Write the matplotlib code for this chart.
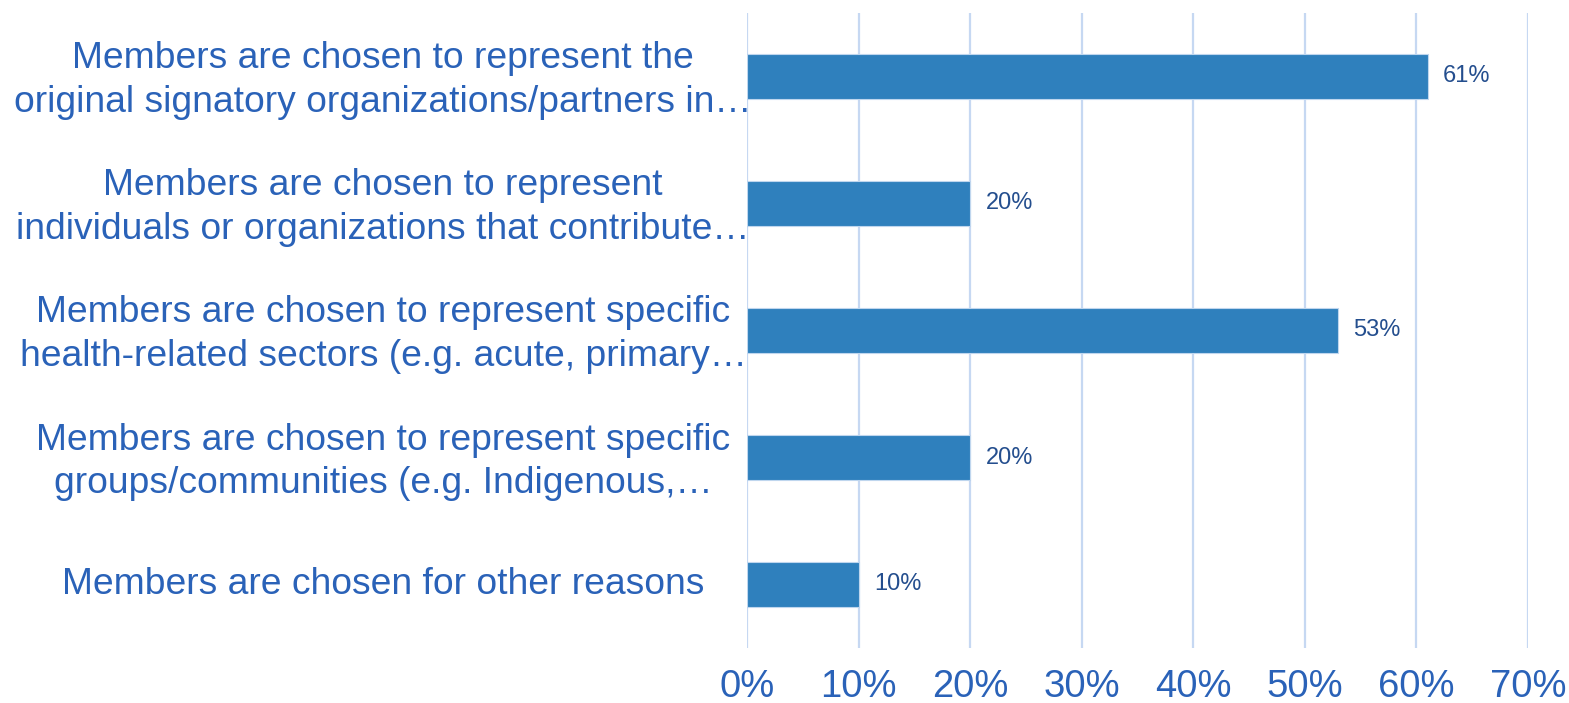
import matplotlib
matplotlib.use("Agg")
import matplotlib.pyplot as plt
from matplotlib.transforms import ScaledTranslation

categories = [
    "Members are chosen to represent the\noriginal signatory organizations/partners in\u2026",
    "Members are chosen to represent\nindividuals or organizations that contribute\u2026",
    "Members are chosen to represent specific\nhealth-related sectors (e.g. acute, primary\u2026",
    "Members are chosen to represent specific\ngroups/communities (e.g. Indigenous,\u2026",
    "Members are chosen for other reasons",
]
values = [61, 20, 53, 20, 10]
xticks = [0, 10, 20, 30, 40, 50, 60, 70]
xtick_labels = ["0%", "10%", "20%", "30%", "40%", "50%", "60%", "70%"]

plt.rcParams["font.family"] = ["Liberation Sans", "DejaVu Sans"]

label_color = "#2A62B8"
value_color = "#244E8E"
bar_color = "#2F80BD"
grid_color = "#C6D8F2"

fig = plt.figure(figsize=(15.69, 7.03), dpi=100)
ax = fig.add_axes([747 / 1569, 1 - 648 / 703, (1528 - 747) / 1569, (648 - 13) / 703])

ypos = list(range(len(categories)))
bars = ax.barh(ypos, values, height=0.35, color=bar_color,
               edgecolor="#BFD6EE", linewidth=0.8, zorder=3)

ax.set_xlim(0, 70)
ax.set_ylim(len(categories) - 0.5, -0.5)

ax.set_xticks(xticks)
ax.set_xticklabels(xtick_labels, fontsize=27.5, color=label_color)
ax.set_yticks(ypos)
ax.set_yticklabels(categories, fontsize=26.8, color=label_color,
                   ha="center", multialignment="center", linespacing=1.3)
ax.tick_params(axis="y", length=0, pad=262)
ax.tick_params(axis="x", length=0, pad=15)

# nudge the category labels up slightly so each block centres on its bar
shift = ScaledTranslation(0, 4 / 100, fig.dpi_scale_trans)
for lbl in ax.get_yticklabels():
    lbl.set_transform(lbl.get_transform() + shift)

ax.grid(axis="x", color=grid_color, linewidth=1.6, zorder=0)
for s in ax.spines.values():
    s.set_visible(False)

for b, v in zip(bars, values):
    ax.annotate(f"{v}%", xy=(v, b.get_y() + b.get_height() / 2),
                xytext=(11, 0), textcoords="offset points",
                va="center", ha="left", fontsize=17, color=value_color)

fig.savefig("out.png", dpi=100)
